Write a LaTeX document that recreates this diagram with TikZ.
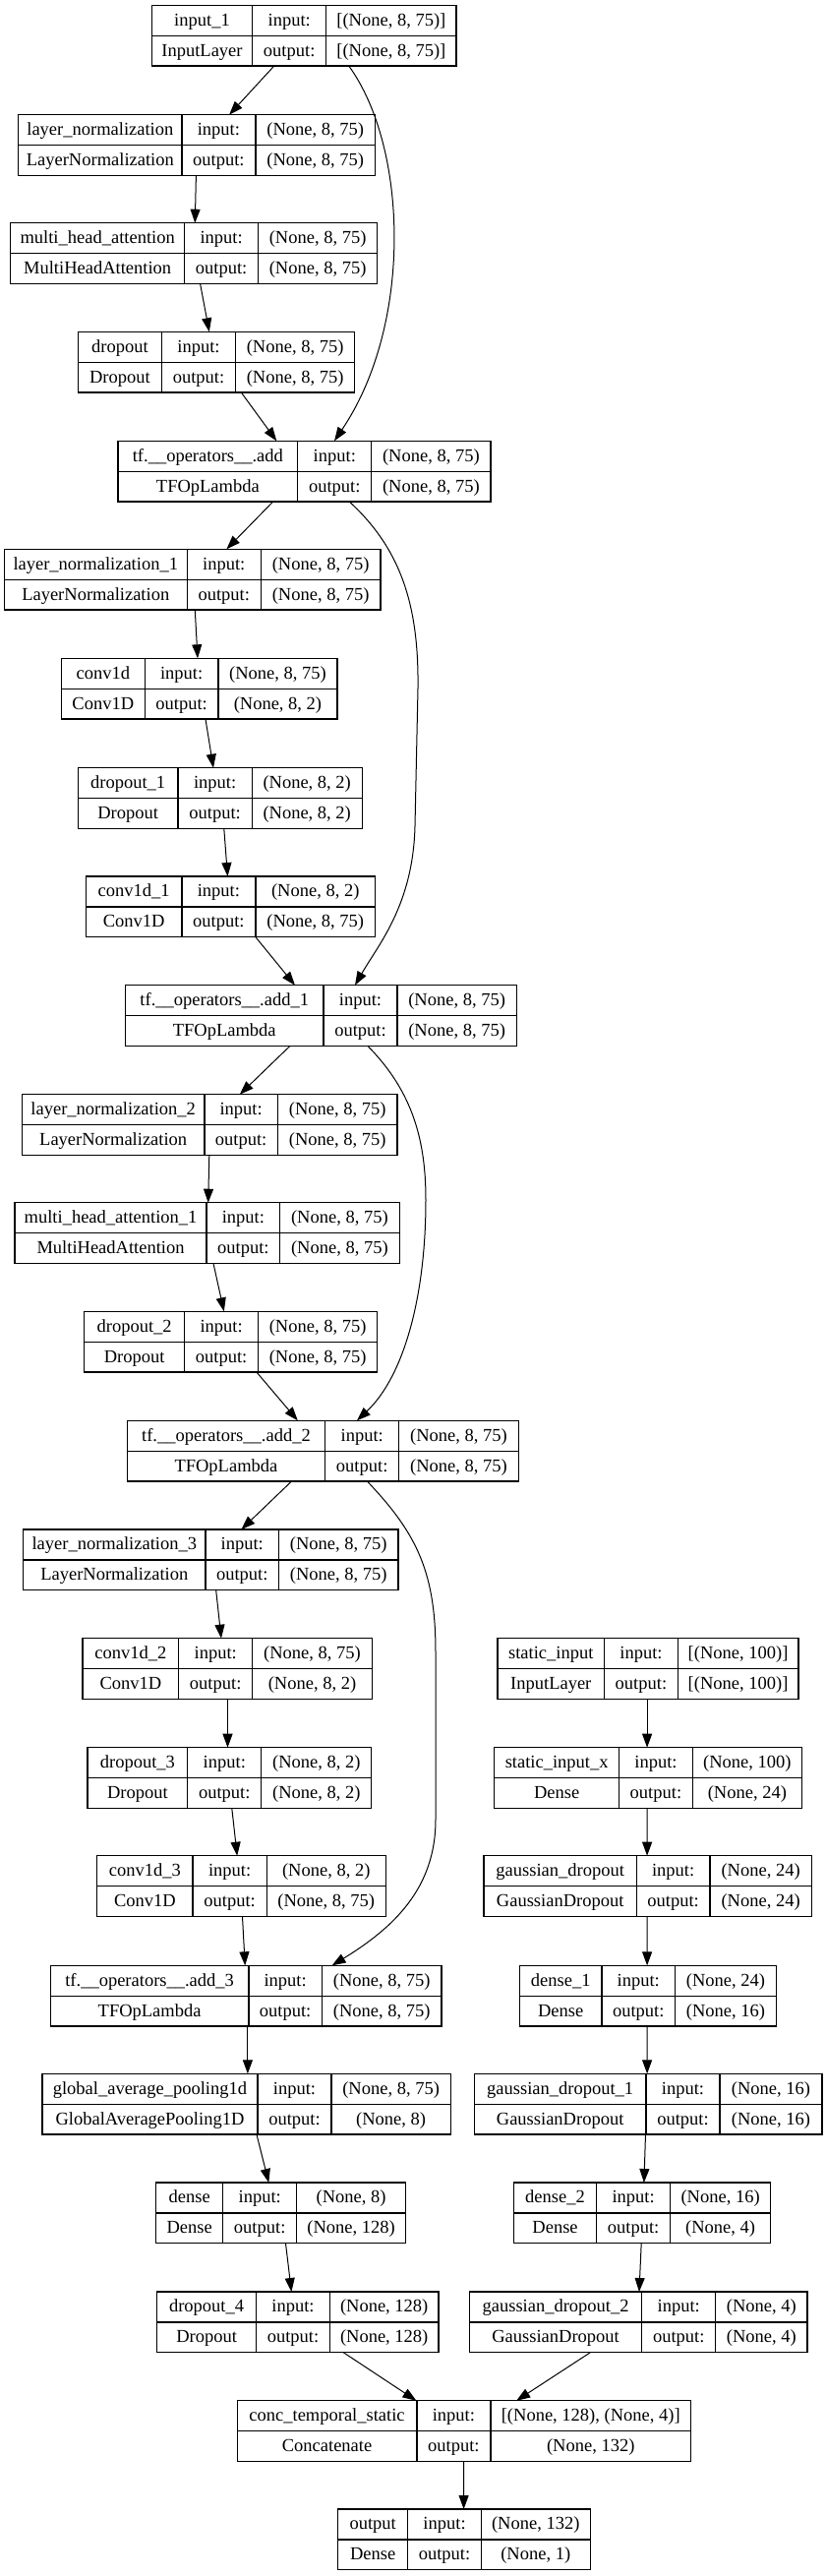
\documentclass[tikz,border=0pt]{standalone}
\usepackage{fontspec}
\setmainfont{Liberation Serif}
\usetikzlibrary{arrows.meta,calc}
\tikzset{
 kframe/.style={draw=black, line width=1.3pt, rectangle, inner sep=0pt, outer sep=0pt},
 kline/.style={draw=black, line width=1.3pt},
 ktext/.style={inner sep=0pt, font=\fontsize{18.5}{20}\selectfont, text height=14pt, text depth=3pt},
 kedge/.style={draw=black, line width=1pt, -{Triangle[length=14pt,width=10pt]}},
}
\def\kH{61.8}
\def\kparse#1/#2/#3/#4/#5\relax{\def\ka{#1}\def\kb{#2}\def\kc{#3}\def\kd{#4}\def\ke{#5}}
\newcommand\kbox[6]{%
 \kparse#2\relax
 \pgfmathsetmacro\kw{\kd-\ka}%
 \pgfmathsetmacro\kcx{(\ka+\kd)/2}%
 \pgfmathsetmacro\kcy{\ke+\kH/2}%
 \pgfmathsetmacro\kbot{\ke+\kH}%
 \pgfmathsetmacro\kqa{\ke+\kH/4}%
 \pgfmathsetmacro\kqb{\ke+3*\kH/4}%
 \pgfmathsetmacro\kxa{(\ka+\kb)/2}%
 \pgfmathsetmacro\kxb{(\kb+\kc)/2}%
 \pgfmathsetmacro\kxc{(\kc+\kd)/2}%
 \node[kframe, minimum width=\kw pt, minimum height=\kH pt] (#1) at (\kcx,\kcy) {};
 \draw[kline] (\ka,\kcy) -- (\kd,\kcy);
 \draw[kline] (\kb,\ke) -- (\kb,\kbot);
 \draw[kline] (\kc,\ke) -- (\kc,\kbot);
 \node[ktext] (#1-n) at (\kxa,\kqa) {#3};
 \node[ktext] (#1-c) at (\kxa,\kqb) {#4};
 \node[ktext] (#1-il) at (\kxb,\kqa) {input:};
 \node[ktext] (#1-ol) at (\kxb,\kqb) {output:};
 \node[ktext] (#1-i) at (\kxc,\kqa) {#5};
 \node[ktext] (#1-o) at (\kxc,\kqb) {#6};
}
\begin{document}
\begin{tikzpicture}[x=1pt,y=-1pt]
\fill[white] (0,0) rectangle (840,2619);
\useasboundingbox (0,0) rectangle (840,2619);

\kbox{in1}{154.3/256.7/331.7/464.1/5.3}{input\_1}{InputLayer}{[(None, 8, 75)]}{[(None, 8, 75)]}
\kbox{ln0}{18.8/184.9/259.9/381.6/116.7}{layer\_normalization}{LayerNormalization}{(None, 8, 75)}{(None, 8, 75)}
\kbox{mha0}{10.7/187.6/262.6/383.7/226.7}{multi\_head\_attention}{MultiHeadAttention}{(None, 8, 75)}{(None, 8, 75)}
\kbox{do0}{79.3/164.5/239.5/360.7/337.3}{dropout}{Dropout}{(None, 8, 75)}{(None, 8, 75)}
\kbox{add0}{120/302.8/377.8/498.9/448.3}{tf.\_\_operators\_\_.add}{TFOpLambda}{(None, 8, 75)}{(None, 8, 75)}
\kbox{ln1}{4.3/190.2/265.3/386.9/558.3}{layer\_normalization\_1}{LayerNormalization}{(None, 8, 75)}{(None, 8, 75)}
\kbox{cv0}{62.2/147.4/221.9/343/669.3}{conv1d}{Conv1D}{(None, 8, 75)}{(None, 8, 2)}
\kbox{do1}{79.3/181.1/256.2/368.2/780.7}{dropout\_1}{Dropout}{(None, 8, 2)}{(None, 8, 2)}
\kbox{cv1}{87.4/184.9/259.9/381.6/891}{conv1d\_1}{Conv1D}{(None, 8, 2)}{(None, 8, 75)}
\kbox{add1}{127.5/329/404/525.2/1001.7}{tf.\_\_operators\_\_.add\_1}{TFOpLambda}{(None, 8, 75)}{(None, 8, 75)}
\kbox{ln2}{22.5/207.9/282.4/404.1/1112.7}{layer\_normalization\_2}{LayerNormalization}{(None, 8, 75)}{(None, 8, 75)}
\kbox{mha1}{15/210.1/284.6/406.2/1222.7}{multi\_head\_attention\_1}{MultiHeadAttention}{(None, 8, 75)}{(None, 8, 75)}
\kbox{do2}{85.7/187.6/262.6/383.7/1333.3}{dropout\_2}{Dropout}{(None, 8, 75)}{(None, 8, 75)}
\kbox{add2}{129.2/330.7/405.7/527.3/1444.3}{tf.\_\_operators\_\_.add\_2}{TFOpLambda}{(None, 8, 75)}{(None, 8, 75)}
\kbox{ln3}{23.6/209/283.5/405.1/1555}{layer\_normalization\_3}{LayerNormalization}{(None, 8, 75)}{(None, 8, 75)}
\kbox{cv2}{84.1/181.7/256.7/378.3/1665.7}{conv1d\_2}{Conv1D}{(None, 8, 75)}{(None, 8, 2)}
\kbox{si}{505.9/614.7/689.2/811.9/1665.7}{static\_input}{InputLayer}{[(None, 100)]}{[(None, 100)]}
\kbox{do3}{89/190.8/265.8/377.8/1776.7}{dropout\_3}{Dropout}{(None, 8, 2)}{(None, 8, 2)}
\kbox{six}{502.7/629.7/704.2/815.6/1776.7}{static\_input\_x}{Dense}{(None, 100)}{(None, 24)}
\kbox{cv3}{98.6/196.1/271.2/392.3/1886.7}{conv1d\_3}{Conv1D}{(None, 8, 2)}{(None, 8, 75)}
\kbox{gd0}{492/647.4/721.9/825.3/1886.7}{gaussian\_dropout}{GaussianDropout}{(None, 24)}{(None, 24)}
\kbox{add3}{51.4/252.9/327.4/449.1/1998.3}{tf.\_\_operators\_\_.add\_3}{TFOpLambda}{(None, 8, 75)}{(None, 8, 75)}
\kbox{de1}{528.4/612/686.5/789.4/1998.3}{dense\_1}{Dense}{(None, 24)}{(None, 16)}
\kbox{gap}{42.9/262/337/458.2/2108.3}{global\_average\_pooling1d}{GlobalAveragePooling1D}{(None, 8, 75)}{(None, 8)}
\kbox{gd1}{482.3/657/732/836/2108.3}{gaussian\_dropout\_1}{GaussianDropout}{(None, 16)}{(None, 16)}
\kbox{de0}{158.6/226.7/301.7/412.6/2219}{dense}{Dense}{(None, 8)}{(None, 128)}
\kbox{de2}{522.5/606.6/681.7/783.5/2219}{dense\_2}{Dense}{(None, 16)}{(None, 4)}
\kbox{do4}{159.7/260.5/335.5/445.9/2330}{dropout\_4}{Dropout}{(None, 128)}{(None, 128)}
\kbox{gd2}{477.5/652.7/727.8/821/2330}{gaussian\_dropout\_2}{GaussianDropout}{(None, 4)}{(None, 4)}
\kbox{cat}{241.2/423.9/498.9/702.6/2440.7}{conc\_temporal\_static}{Concatenate}{[(None, 128), (None, 4)]}{(None, 132)}
\kbox{out}{343.5/414.8/489.3/600.2/2551}{output}{Dense}{(None, 132)}{(None, 1)}

% edges
\draw[kedge] ([xshift=124.4pt]in1.south west) -- ([xshift=214.3pt]ln0.north west);
\draw[kedge] ([xshift=200.5pt]in1.south west) .. controls (415,150) and (420,330) .. ([xshift=220pt]add0.north west);
\draw[kedge] ([xshift=180.6pt]ln0.south west) -- ([xshift=187.6pt]mha0.north west);
\draw[kedge] ([xshift=192.9pt]mha0.south west) -- ([xshift=133.5pt]do0.north west);
\draw[kedge] ([xshift=166.1pt]do0.south west) -- ([xshift=161.3pt]add0.north west);
\draw[kedge] ([xshift=157.6pt]add0.south west) -- ([xshift=226.1pt]ln1.north west);
\draw[kedge] ([xshift=235.3pt]add0.south west) .. controls (410,560) and (426,620) .. (425,700) -- (422,840) .. controls (420,920) and (385,960) .. ([xshift=233.5pt]add1.north west);
\draw[kedge] ([xshift=194pt]ln1.south west) -- ([xshift=138.8pt]cv0.north west);
\draw[kedge] ([xshift=146.8pt]cv0.south west) -- ([xshift=137.7pt]do1.north west);
\draw[kedge] ([xshift=148.5pt]do1.south west) -- ([xshift=144.1pt]cv1.north west);
\draw[kedge] ([xshift=172.6pt]cv1.south west) -- ([xshift=172.5pt]add1.north west);
\draw[kedge] ([xshift=167.3pt]add1.south west) -- ([xshift=221.3pt]ln2.north west);
\draw[kedge] ([xshift=246.5pt]add1.south west) .. controls (420,1110) and (433,1160) .. (433,1220) .. controls (433,1320) and (410,1400) .. ([xshift=233.8pt]add2.north west);
\draw[kedge] ([xshift=190.3pt]ln2.south west) -- ([xshift=196.7pt]mha1.north west);
\draw[kedge] ([xshift=202pt]mha1.south west) -- ([xshift=142.1pt]do2.north west);
\draw[kedge] ([xshift=175.3pt]do2.south west) -- ([xshift=173.6pt]add2.north west);
\draw[kedge] ([xshift=167.2pt]add2.south west) -- ([xshift=221.8pt]ln3.north west);
\draw[kedge] ([xshift=244.3pt]add2.south west) .. controls (425,1560) and (443,1600) .. (443,1680) -- (443,1850) .. controls (443,1920) and (400,1960) .. ([xshift=286.2pt]add3.north west);
\draw[kedge] ([xshift=196.1pt]ln3.south west) -- ([xshift=140.9pt]cv2.north west);
\draw[kedge] ([xshift=147.4pt]cv2.south west) -- ([xshift=142.5pt]do3.north west);
\draw[kedge] ([xshift=146.8pt]do3.south west) -- ([xshift=142.6pt]cv3.north west);
\draw[kedge] ([xshift=147.9pt]cv3.south west) -- ([xshift=197.8pt]add3.north west);
\draw[kedge] ([xshift=200.5pt]add3.south west) -- ([xshift=209pt]gap.north west);
\draw[kedge] ([xshift=218.1pt]gap.south west) -- ([xshift=114.7pt]de0.north west);
\draw[kedge] ([xshift=131.9pt]de0.south west) -- ([xshift=136.7pt]do4.north west);
\draw[kedge] ([xshift=189.7pt]do4.south west) -- ([xshift=182.2pt]cat.north west);
\draw[kedge] ([xshift=122.7pt]gd2.south west) -- ([xshift=284pt]cat.north west);
\draw[kedge] ([xshift=230.4pt]cat.south west) -- ([xshift=128.1pt]out.north west);
\draw[kedge] ([xshift=152.2pt]si.south west) -- ([xshift=155.4pt]six.north west);
\draw[kedge] ([xshift=155.4pt]six.south west) -- ([xshift=166.1pt]gd0.north west);
\draw[kedge] ([xshift=166.1pt]gd0.south west) -- ([xshift=129.7pt]de1.north west);
\draw[kedge] ([xshift=129.7pt]de1.south west) -- ([xshift=175.8pt]gd1.north west);
\draw[kedge] ([xshift=174.2pt]gd1.south west) -- ([xshift=132.4pt]de2.north west);
\draw[kedge] ([xshift=129.7pt]de2.south west) -- ([xshift=172.5pt]gd2.north west);
\end{tikzpicture}
\end{document}
